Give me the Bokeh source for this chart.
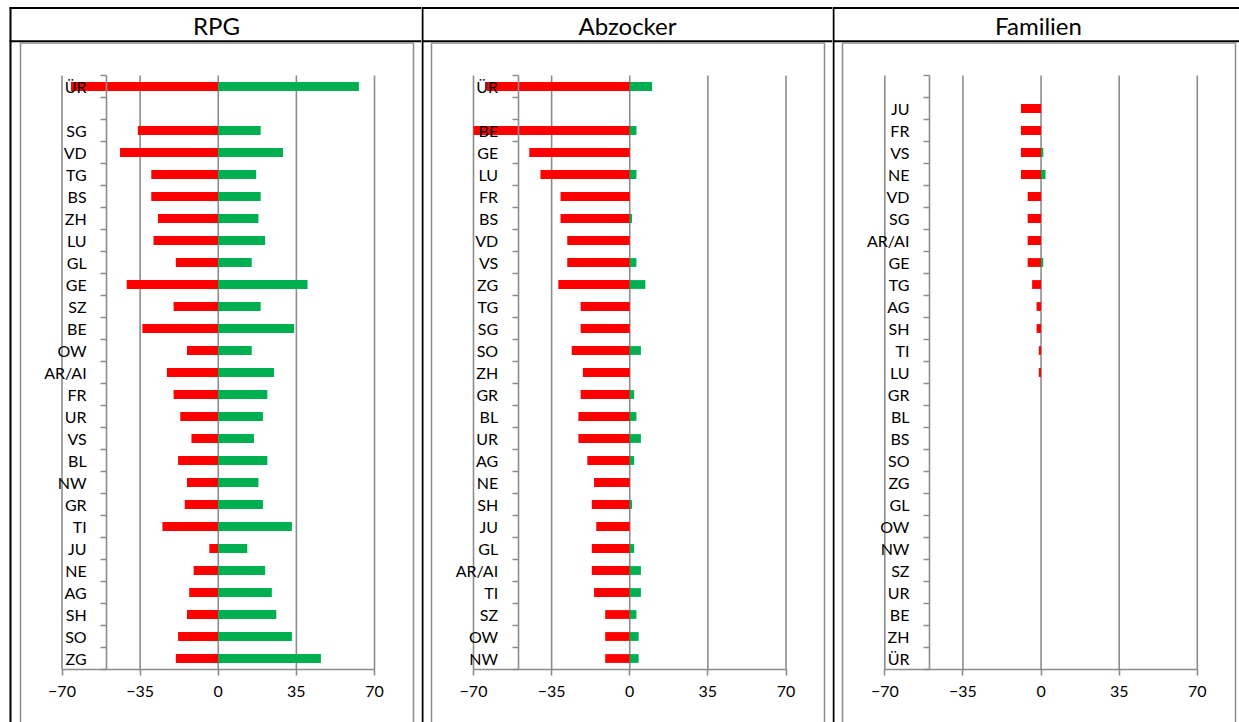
from bokeh.plotting import figure
from bokeh.layouts import row
from bokeh.models import FixedTicker, Range1d, ColumnDataSource, CustomJSTickFormatter
from bokeh.core.properties import value
from bokeh.embed import file_html
from bokeh.resources import INLINE

# ---------------- data (top row first) ----------------
titles = ["RPG", "Abzocker", "Familien"]

rpg_cantons = ["ÜR", "", "SG", "VD", "TG", "BS", "ZH", "LU", "GL", "GE", "SZ", "BE", "OW",
               "AR/AI", "FR", "UR", "VS", "BL", "NW", "GR", "TI", "JU", "NE", "AG", "SH", "SO", "ZG"]
rpg_neg = [-66, 0, -36, -44, -30, -30, -27, -29, -19, -41, -20, -34, -14,
           -23, -20, -17, -12, -18, -14, -15, -25, -4, -11, -13, -14, -18, -19]
rpg_pos = [63, 0, 19, 29, 17, 19, 18, 21, 15, 40, 19, 34, 15,
           25, 22, 20, 16, 22, 18, 20, 33, 13, 21, 24, 26, 33, 46]

abz_cantons = ["ÜR", "", "BE", "GE", "LU", "FR", "BS", "VD", "VS", "ZG", "TG", "SG", "SO",
               "ZH", "GR", "BL", "UR", "AG", "NE", "SH", "JU", "GL", "AR/AI", "TI", "SZ", "OW", "NW"]
abz_neg = [-64, 0, -70, -45, -40, -31, -31, -28, -28, -32, -22, -22, -26,
           -21, -22, -23, -23, -19, -16, -17, -15, -17, -17, -16, -11, -11, -11]
abz_pos = [10, 0, 3, 0, 3, 0, 1, 0, 3, 7, 0, 0, 5,
           0, 2, 3, 5, 2, 0, 1, 0, 2, 5, 5, 3, 4, 4]

fam_cantons = ["", "JU", "FR", "VS", "NE", "VD", "SG", "AR/AI", "GE", "TG", "AG", "SH", "TI",
               "LU", "GR", "BL", "BS", "SO", "ZG", "GL", "OW", "NW", "SZ", "UR", "BE", "ZH", "ÜR"]
fam_neg = [0, -9, -9, -9, -9, -6, -6, -6, -6, -4, -2, -2, -1,
           -1, 0, 0, 0, 0, 0, 0, 0, 0, 0, 0, 0, 0, 0]
fam_pos = [0, 0, 0, 1, 2, 0, 0, 0, 1, 0, 0, 0, 0,
           0, 0, 0, 0, 0, 0, 0, 0, 0, 0, 0, 0, 0, 0]

x_ticks = [-70, -35, 0, 35, 70]
x_min, x_max = -70, 70
y_axis_at = -50

# ---------------- style / geometry ----------------
FONT = "Lato"
GREY = "#8c8c8c"
RED = "#FF0000"
GREEN = "#00B050"
H = 722
ROW_PX = 22.0
PX_PER_UNIT = 312.5 / 140.0
PLOT_TOP = 75


def panel(title, cantons, neg, pos, width, plot_left, frame_l, frame_r, title_cx, black_x):
    n = len(cantons)
    x0 = x_min - plot_left / PX_PER_UNIT
    x1 = x0 + width / PX_PER_UNIT
    y1 = (n - 0.5) + PLOT_TOP / ROW_PX
    y0 = y1 - H / ROW_PX

    def xd(px):
        return x0 + px / PX_PER_UNIT

    def yd(py):
        return y1 - py / ROW_PX

    p = figure(width=width, height=H, x_range=Range1d(x0, x1), y_range=Range1d(y0, y1),
               output_backend="svg", toolbar_location=None, title=None, min_border=0)
    p.outline_line_color = None
    p.grid.visible = False

    ys = [n - 1 - i for i in range(n)]
    y_lo, y_hi = -0.5, n - 0.5

    # table lines (black) and chart-area frame (grey)
    left_start = black_x - 1
    p.segment(x0=[xd(left_start), xd(left_start), xd(black_x)], y0=[yd(7.5), yd(40.7), yd(6.5)],
              x1=[xd(width), xd(width), xd(black_x)], y1=[yd(7.5), yd(40.7), yd(H + 5)],
              line_color="black", line_width=2)
    p.segment(x0=[xd(frame_l), xd(frame_l), xd(frame_r)], y0=[yd(42.5), yd(42.5), yd(42.5)],
              x1=[xd(frame_r), xd(frame_l), xd(frame_r)], y1=[yd(42.5), yd(H + 10), yd(H + 10)],
              line_color=GREY, line_width=1.5)

    # title
    p.text(x=[xd(title_cx)], y=[yd(25)], text=[title], text_font=value(FONT),
           text_font_size="24px", text_align="center", text_baseline="middle",
           text_color="black")

    # vertical gridlines
    p.segment(x0=x_ticks, y0=[y_lo] * len(x_ticks), x1=x_ticks, y1=[y_hi] * len(x_ticks),
              line_color=GREY, line_width=1.6)

    src = ColumnDataSource(dict(y=ys, neg=neg, pos=pos, zero=[0] * n))
    p.hbar(y="y", left="neg", right="zero", height=0.4, source=src,
           fill_color=RED, line_color=None)
    p.hbar(y="y", left="zero", right="pos", height=0.4, source=src,
           fill_color=GREEN, line_color=None)

    # x axis at the bottom of the plot area
    xa = p.xaxis[0]
    xa.fixed_location = y_lo
    xa.bounds = (x_min, x_max)
    xa.ticker = FixedTicker(ticks=x_ticks)
    xa.major_tick_out = 6
    xa.major_tick_in = 0
    xa.minor_tick_out = 0
    xa.minor_tick_in = 0
    xa.axis_line_color = GREY
    xa.axis_line_width = 1.6
    xa.major_tick_line_color = GREY
    xa.major_tick_line_width = 1.6
    xa.major_label_text_font = FONT
    xa.major_label_text_font_size = "16px"
    xa.major_label_text_color = "black"
    xa.major_label_standoff = 10

    # category axis crossing at -50
    ya = p.yaxis[0]
    ya.fixed_location = y_axis_at
    ya.bounds = (y_lo, y_hi)
    ya.ticker = FixedTicker(ticks=ys, minor_ticks=[k - 0.5 for k in range(n + 1)])
    ya.formatter = CustomJSTickFormatter(
        args=dict(labels=cantons[::-1]),
        code="const i = Math.round(tick); return (i >= 0 && i < labels.length) ? labels[i] : '';")
    ya.major_tick_out = 0
    ya.major_tick_in = 0
    ya.minor_tick_out = 6
    ya.minor_tick_in = 0
    ya.axis_line_color = GREY
    ya.axis_line_width = 1.6
    ya.minor_tick_line_color = GREY
    ya.minor_tick_line_width = 1.6
    ya.major_label_text_font = FONT
    ya.major_label_text_font_size = "16px"
    ya.major_label_text_color = "black"
    ya.major_label_standoff = 14
    return p


p1 = panel(titles[0], rpg_cantons, rpg_neg, rpg_pos, 421, 61.5, 20, 413, 216, 10)
p2 = panel(titles[1], abz_cantons, abz_neg, abz_pos, 411, 52, 10, 403, 206, 1)
p3 = panel(titles[2], fam_cantons, fam_neg, fam_pos, 407, 52.3, 10, 403, 206, 1)

layout = row(p1, p2, p3)
open("out.html", "w").write(file_html(layout, INLINE))
